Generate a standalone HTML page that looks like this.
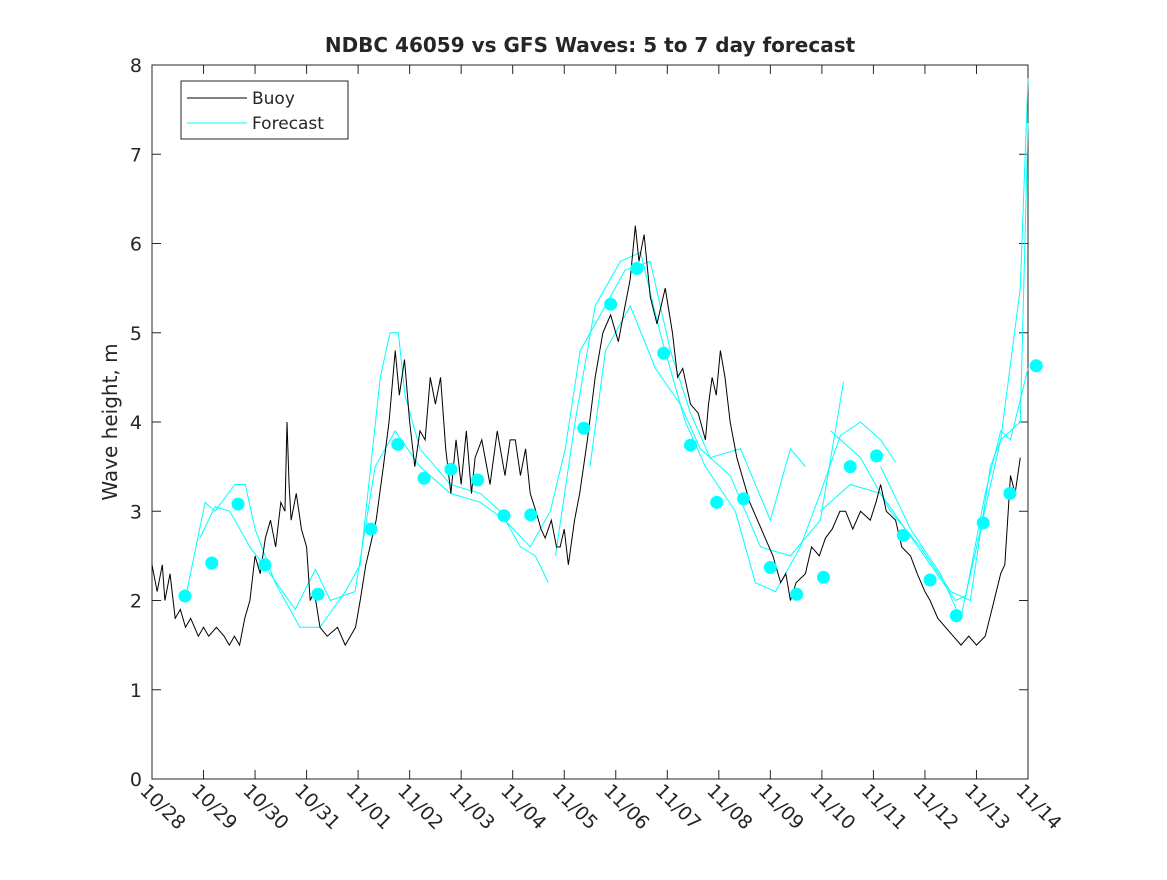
<!DOCTYPE html>
<html><head><meta charset="utf-8"><style>
body{margin:0;background:#fff}
svg text{font-family:"DejaVu Sans","Liberation Sans",sans-serif;fill:#262626}
</style></head><body>
<svg id="chart" width="1167" height="875" xmlns="http://www.w3.org/2000/svg">
<rect width="1167" height="875" fill="#fff"/>
<text x="590" y="52" text-anchor="middle" font-size="20" font-weight="bold" fill="#000">NDBC 46059 vs GFS Waves: 5 to 7 day forecast</text>
<text transform="translate(117,422) rotate(-90)" text-anchor="middle" font-size="20">Wave height, m</text>
<g id="axes"></g>
<g id="series"></g>
<g>
<rect x="181" y="81" width="167" height="58" fill="#fff" stroke="#262626" stroke-width="1"/>
<line x1="187" y1="98" x2="247" y2="98" stroke="#000"/>
<text x="252" y="104" font-size="17">Buoy</text>
<line x1="187" y1="123" x2="247" y2="123" stroke="#00ffff"/>
<text x="252" y="129" font-size="17">Forecast</text>
</g>
</svg>
<script>
const xTickLabels=["10/28","10/29","10/30","10/31","11/01","11/02","11/03","11/04","11/05","11/06","11/07","11/08","11/09","11/10","11/11","11/12","11/13","11/14"];
const yTickLabels=[0,1,2,3,4,5,6,7,8];
const buoyDays=[0,0.1,0.2,0.25,0.35,0.45,0.55,0.65,0.75,0.9,1.0,1.1,1.25,1.4,1.5,1.6,1.7,1.8,1.9,2.0,2.1,2.2,2.3,2.4,2.5,2.58,2.62,2.66,2.7,2.8,2.9,3.0,3.07,3.15,3.26,3.4,3.6,3.75,3.85,3.95,4.04,4.15,4.23,4.35,4.49,4.6,4.72,4.8,4.9,5.0,5.1,5.2,5.3,5.4,5.5,5.6,5.7,5.8,5.9,6.0,6.1,6.2,6.27,6.4,6.56,6.7,6.85,6.95,7.05,7.15,7.25,7.34,7.45,7.55,7.63,7.75,7.85,7.92,8.0,8.08,8.2,8.3,8.45,8.6,8.75,8.9,9.05,9.18,9.28,9.38,9.45,9.55,9.67,9.8,9.96,10.1,10.2,10.3,10.45,10.6,10.74,10.8,10.87,10.95,11.03,11.12,11.22,11.35,11.5,11.6,11.75,11.9,12.05,12.2,12.3,12.39,12.5,12.68,12.8,12.95,13.07,13.2,13.35,13.46,13.6,13.75,13.94,14.05,14.14,14.25,14.43,14.55,14.72,14.85,15.0,15.1,15.25,15.4,15.55,15.7,15.85,16.0,16.17,16.3,16.47,16.55,16.66,16.75,16.85];
const buoyValues=[2.4,2.1,2.4,2.0,2.3,1.8,1.9,1.7,1.8,1.6,1.7,1.6,1.7,1.6,1.5,1.6,1.5,1.8,2.0,2.5,2.3,2.7,2.9,2.6,3.1,3.0,4.0,3.3,2.9,3.2,2.8,2.6,2.0,2.1,1.7,1.6,1.7,1.5,1.6,1.7,2.0,2.4,2.6,2.9,3.5,4.0,4.8,4.3,4.7,4.0,3.5,3.9,3.8,4.5,4.2,4.5,3.7,3.2,3.8,3.3,3.9,3.2,3.6,3.8,3.3,3.9,3.4,3.8,3.8,3.4,3.7,3.2,3.0,2.8,2.7,2.9,2.6,2.6,2.8,2.4,2.9,3.2,3.8,4.5,5.0,5.2,4.9,5.3,5.6,6.2,5.8,6.1,5.4,5.1,5.5,5.0,4.5,4.6,4.2,4.1,3.8,4.2,4.5,4.3,4.8,4.5,4.0,3.6,3.3,3.1,2.9,2.7,2.5,2.2,2.3,2.0,2.2,2.3,2.6,2.5,2.7,2.8,3.0,3.0,2.8,3.0,2.9,3.1,3.3,3.0,2.9,2.6,2.5,2.3,2.1,2.0,1.8,1.7,1.6,1.5,1.6,1.5,1.6,1.9,2.3,2.4,3.4,3.2,3.6];
const forecastDays=[
[0.64,1.03,1.22,1.61,1.81,2.0,2.39,2.87,3.26,3.75,4.04,4.43,4.62,4.78,4.91,5.2,5.79,6.37,6.76,7.15,7.44,7.69],
[0.93,1.22,1.51,1.9,2.29,2.78,3.17,3.46,3.94,4.33,4.72,5.2,5.79,6.37,6.85,7.34,7.73,8.02,8.31,8.7,9.18,9.67,10.06,10.45,10.83,11.42,12.0,12.39,12.68],
[7.83,8.21,8.6,9.09,9.48,9.86,10.35,10.74,11.32,11.71,12.1,12.58,12.97,13.36,13.75,14.14,14.43],
[8.5,8.8,9.28,9.77,10.25,10.64,11.22,11.81,12.39,12.97,13.42],
[12.97,13.55,14.14,14.62,15.11,15.59,15.79,16.17,16.47,16.66,17.0],
[13.17,13.75,14.33,14.91,15.5,15.88,16.27,16.47,16.85,17.0],
[14.14,14.72,15.3,15.69,16.08,16.47,16.85,17.0]];
const forecastValues=[
[2.0,3.1,3.0,3.3,3.3,2.8,2.2,1.7,1.7,2.1,2.4,4.5,5.0,5.0,4.3,3.7,3.3,3.2,3.0,2.6,2.5,2.2],
[2.7,3.05,3.0,2.6,2.3,1.9,2.35,2.0,2.1,3.5,3.9,3.5,3.2,3.1,2.9,2.6,3.0,3.7,4.8,5.2,5.7,5.8,4.8,4.1,3.6,3.7,2.9,3.7,3.5],
[2.5,4.0,5.3,5.8,5.9,5.0,4.0,3.5,3.0,2.2,2.1,2.6,3.2,3.85,4.0,3.8,3.55],
[3.5,4.8,5.3,4.6,4.2,3.7,3.4,2.6,2.5,2.9,4.45],
[3.0,3.3,3.2,2.8,2.4,2.0,2.05,3.2,3.9,3.8,4.6],
[3.9,3.6,3.0,2.6,2.1,2.0,3.5,3.8,5.5,7.85],
[3.5,2.8,2.3,1.8,2.8,3.8,4.0,7.35]];
const dotDays=[0.64,1.16,1.67,2.19,3.22,4.25,4.77,5.28,5.8,6.32,6.83,7.35,8.38,8.9,9.41,9.93,10.45,10.96,11.48,12.0,12.51,13.03,13.55,14.06,14.58,15.1,15.61,16.13,16.65,17.16];
const dotValues=[2.05,2.42,3.08,2.4,2.07,2.8,3.75,3.37,3.47,3.35,2.95,2.96,3.93,5.32,5.72,4.77,3.74,3.1,3.14,2.37,2.07,2.26,3.5,3.62,2.73,2.23,1.83,2.87,3.2,4.63];

const NS="http://www.w3.org/2000/svg";
const L=152,R=1028,T=65,B=779;
const xs=d=>L+(R-L)*d/17;
const ys=v=>B-(B-T)*v/8;
function mk(tag,attrs,parent){const e=document.createElementNS(NS,tag);for(const k in attrs)e.setAttribute(k,attrs[k]);parent.appendChild(e);return e;}
const axes=document.getElementById('axes'),ser=document.getElementById('series');
const box=mk('rect',{x:L,y:T,width:R-L,height:B-T,fill:'none',stroke:'#262626','stroke-width':1},axes);


yTickLabels.forEach(v=>{
 const y=ys(v);
 mk('line',{x1:L,y1:y,x2:L+9,y2:y,stroke:'#262626'},axes);
 mk('line',{x1:R,y1:y,x2:R-9,y2:y,stroke:'#262626'},axes);
 const t=mk('text',{x:L-10,y:y+7,'text-anchor':'end','font-size':19},axes);
 t.textContent=v;
 
 
});
xTickLabels.forEach((s,i)=>{
 const x=xs(i);
 mk('line',{x1:x,y1:B,x2:x,y2:B-9,stroke:'#262626'},axes);
 mk('line',{x1:x,y1:T,x2:x,y2:T+9,stroke:'#262626'},axes);
 const t=mk('text',{x:0,y:0,'font-size':19,transform:`translate(${x-13},${B+13}) rotate(45)`},axes);
 t.textContent=s;
 
 
});
forecastDays.forEach((ds,j)=>{
 const p=mk('polyline',{points:ds.map((d,i)=>xs(d)+','+ys(forecastValues[j][i])).join(' '),fill:'none',stroke:'#00ffff','stroke-width':1},ser);
 
 
});
const bl=mk('polyline',{points:buoyDays.map((d,i)=>xs(d)+','+ys(buoyValues[i])).join(' '),fill:'none',stroke:'#000','stroke-width':1},ser);


dotDays.forEach((d,i)=>{
 const c=mk('circle',{cx:xs(d),cy:ys(dotValues[i]),r:6.5,fill:'#00ffff'},ser);
 
 
});
</script>
</body></html>
